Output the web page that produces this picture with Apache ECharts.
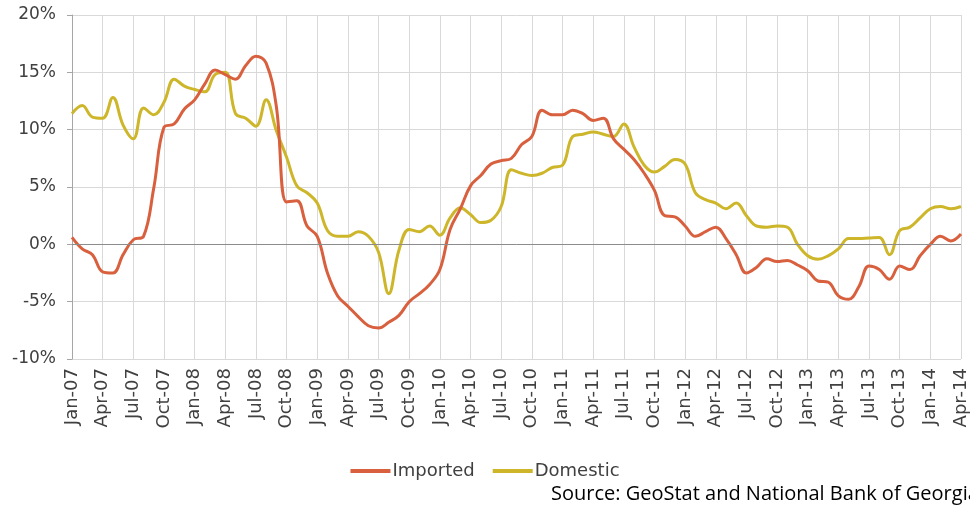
<!DOCTYPE html>
<html>
<head>
<meta charset="utf-8">
<script src="https://cdn.jsdelivr.net/npm/echarts@6/dist/echarts.min.js"></script>
<style>
  html, body { margin: 0; padding: 0; background: #fff; }
  #container { width: 970px; height: 515px; }
</style>
</head>
<body>
<div id="container"></div>
<script>
// month labels, Jan-07 .. Apr-14
var monthNames = ['Jan','Feb','Mar','Apr','May','Jun','Jul','Aug','Sep','Oct','Nov','Dec'];
var years = ['07','08','09','10','11','12','13','14'];
var categories = [];
years.forEach(function (y) {
    monthNames.forEach(function (m) {
        if (categories.length < 88) categories.push(m + '-' + y);
    });
});

// y/y inflation, %
var imported = [
    0.6, -0.4, -0.9, -2.4, -2.5, -0.9, 0.4, 0.7, 4.9, 10.2, 10.5, 11.8,
    12.6, 14.0, 15.2, 14.8, 14.4, 15.6, 16.4, 15.8, 12.0, 3.7, 3.8, 1.6,
    0.7, -2.5, -4.5, -5.4, -6.3, -7.1, -7.3, -6.8, -6.2, -5.0, -4.3, -3.5,
    -2.2, 1.3, 3.1, 5.1, 6.0, 7.0, 7.3, 7.5, 8.7, 9.4, 11.7, 11.3,
    11.3, 11.7, 11.4, 10.8, 11.0, 9.2, 8.3, 7.4, 6.2, 4.7, 2.5, 2.4,
    1.6, 0.7, 1.1, 1.5, 0.5, -0.9, -2.5, -2.0, -1.25, -1.5, -1.4, -1.8,
    -2.3, -3.2, -3.3, -4.5, -4.8, -3.7, -1.9, -2.2, -3.05, -1.9, -2.2, -1.0,
    0.0, 0.7, 0.3, 0.9
];
var domestic = [
    11.4, 12.1, 11.1, 11.0, 12.8, 10.4, 9.2, 11.9, 11.3, 12.4, 14.4, 13.8,
    13.5, 13.3, 14.8, 15.0, 11.4, 11.0, 10.3, 12.6, 9.9, 7.6, 5.1, 4.5,
    3.6, 1.2, 0.7, 0.7, 1.1, 0.7, -0.7, -4.3, -0.5, 1.3, 1.1, 1.6,
    0.8, 2.3, 3.2, 2.6, 1.9, 2.1, 3.3, 6.5, 6.2, 6.0, 6.2, 6.7,
    6.9, 9.4, 9.6, 9.8, 9.6, 9.4, 10.5, 8.5, 6.9, 6.3, 6.8, 7.4,
    7.0, 4.5, 3.9, 3.6, 3.1, 3.6, 2.5, 1.6, 1.5, 1.6, 1.5, 0.0,
    -1.0, -1.3, -1.0, -0.4, 0.5, 0.5, 0.55, 0.6, -0.9, 1.2, 1.5, 2.3,
    3.1, 3.3, 3.1, 3.3
];

var labelFont = '"DejaVu Sans", sans-serif';
var dom = document.getElementById('container');
var myChart = echarts.init(dom);

var option = {
    animation: false,
    grid: { left: 72, right: 9, top: 15, bottom: 156 },
    legend: {
        data: ['Imported', 'Domestic'],
        left: 'center',
        top: 457,
        icon: 'rect',
        itemWidth: 40,
        itemHeight: 4,
        itemGap: 18,
        textStyle: { fontFamily: labelFont, fontSize: 18, color: '#404040', padding: [0, 0, 0, -3] }
    },
    graphic: [{
        type: 'text',
        left: 551,
        top: 484,
        style: {
            text: 'Source: GeoStat and National Bank of Georgia',
            font: '20px "Open Sans", sans-serif',
            fill: '#000'
        }
    }],
    xAxis: {
        type: 'category',
        boundaryGap: false,
        data: categories,
        axisLine: { show: false },
        axisTick: { show: false },
        axisLabel: {
            interval: 2,
            rotate: 90,
            margin: 9,
            fontFamily: labelFont,
            fontSize: 18,
            color: '#404040'
        },
        splitLine: {
            show: true,
            interval: 2,
            lineStyle: { color: '#d9d9d9', width: 1 }
        }
    },
    yAxis: {
        type: 'value',
        min: -10,
        max: 20,
        interval: 5,
        axisLine: { show: true, lineStyle: { color: '#a6a6a6' } },
        axisTick: { show: true, length: 5, lineStyle: { color: '#a6a6a6' } },
        axisLabel: {
            formatter: '{value}%',
            fontFamily: labelFont,
            fontSize: 17,
            color: '#404040',
            margin: 16
        },
        splitLine: { lineStyle: { color: '#d9d9d9', width: 1 } }
    },
    series: [
        {
            name: 'Imported',
            type: 'line',
            data: imported,
            smooth: 0.4,
            showSymbol: false,
            color: '#D8603E',
            lineStyle: { width: 3 },
            markLine: {
                silent: true,
                symbol: 'none',
                label: { show: false },
                lineStyle: { color: '#8c8c8c', width: 1, type: 'solid' },
                data: [{ yAxis: 0 }]
            },
            z: 3
        },
        {
            name: 'Domestic',
            type: 'line',
            data: domestic,
            smooth: 0.4,
            showSymbol: false,
            color: '#CDB62A',
            lineStyle: { width: 3 },
            z: 2
        }
    ]
};

myChart.setOption(option);
</script>
</body>
</html>
